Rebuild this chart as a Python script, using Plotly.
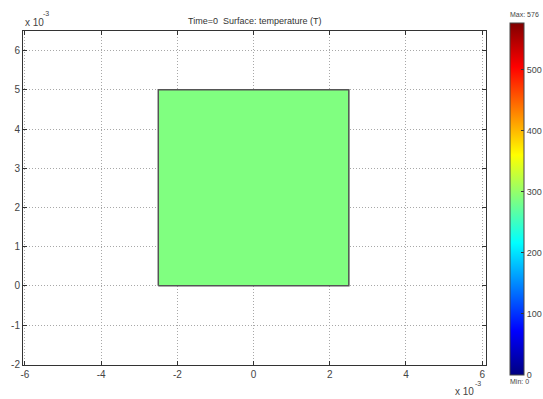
import plotly.graph_objects as go

# Data
x_edges = [-2.5e-3, 2.5e-3]
y_edges = [0.0, 5.0e-3]
temperature = [[288]]
t_min, t_max = 0, 576
x_ticks = [-6, -4, -2, 0, 2, 4, 6]
y_ticks = [-2, -1, 0, 1, 2, 3, 4, 5, 6]
cb_ticks = [0, 100, 200, 300, 400, 500]

jet = [[0.0, "rgb(0,0,128)"], [0.125, "rgb(0,0,255)"], [0.375, "rgb(0,255,255)"],
       [0.625, "rgb(255,255,0)"], [0.875, "rgb(255,0,0)"], [1.0, "rgb(128,0,0)"]]

FONT = "Liberation Sans, Arial"

fig = go.Figure()
fig.add_trace(go.Heatmap(
    x=x_edges, y=y_edges, z=temperature, zmin=t_min, zmax=t_max,
    colorscale=jet, hoverinfo="skip",
    colorbar=dict(
        thickness=14, thicknessmode="pixels", len=1.054, lenmode="fraction",
        x=1.052, xanchor="left", y=-0.03, yanchor="bottom",
        outlinewidth=1, outlinecolor="#444", xpad=0, ypad=0,
        tickvals=cb_ticks, ticktext=[str(v) for v in cb_ticks],
        ticks="inside", ticklen=3, tickcolor="#333",
        tickfont=dict(family=FONT, size=9, color="#444"),
    ),
))
bx = [x_edges[0], x_edges[1], x_edges[1], x_edges[0], x_edges[0]]
by = [y_edges[0], y_edges[0], y_edges[1], y_edges[1], y_edges[0]]
fig.add_trace(go.Scatter(x=bx, y=by, mode="lines", line=dict(color="#555", width=1.5),
                         hoverinfo="skip", showlegend=False))

axis_common = dict(
    showline=True, linecolor="#333", linewidth=1, mirror="ticks",
    ticks="inside", ticklen=4, tickcolor="#333",
    showgrid=True, gridcolor="#a8a8a8", griddash="1px,2px", gridwidth=1,
    zeroline=False,
    tickfont=dict(family=FONT, size=10, color="#444"),
)
fig.update_xaxes(range=[-6.05e-3, 6.1e-3], tickvals=[v * 1e-3 for v in x_ticks],
                 ticktext=[str(v) for v in x_ticks], **axis_common)
fig.update_yaxes(range=[-2.02e-3, 6.5e-3], tickvals=[v * 1e-3 for v in y_ticks],
                 ticktext=[str(v) for v in y_ticks], **axis_common)

fig.update_layout(
    width=543, height=399,
    margin=dict(l=23, r=57, t=31, b=34, autoexpand=False),
    plot_bgcolor="white", paper_bgcolor="white",
    showlegend=False,
    annotations=[
        dict(text="Time=0  Surface: temperature (T)", x=0.5, y=1, xref="paper", yref="paper",
             xanchor="center", yanchor="bottom", yshift=3, showarrow=False,
             font=dict(family=FONT, size=9, color="#333")),
        dict(text="x 10", x=0, y=1, xref="paper", yref="paper", xanchor="left", yanchor="bottom",
             xshift=0, yshift=1, showarrow=False, font=dict(family=FONT, size=10, color="#444")),
        dict(text="-3", x=0, y=1, xref="paper", yref="paper", xanchor="left", yanchor="bottom",
             xshift=18, yshift=12, showarrow=False, font=dict(family=FONT, size=7, color="#444")),
        dict(text="x 10", x=1, y=0, xref="paper", yref="paper", xanchor="right", yanchor="top",
             xshift=-10, yshift=-19, showarrow=False, font=dict(family=FONT, size=10, color="#444")),
        dict(text="-3", x=1, y=0, xref="paper", yref="paper", xanchor="right", yanchor="top",
             xshift=-3, yshift=-13, showarrow=False, font=dict(family=FONT, size=7, color="#444")),
        dict(text="Max: 576", x=1.052, y=1.024, xref="paper", yref="paper", xanchor="left", yanchor="bottom",
             xshift=-2, yshift=3, showarrow=False, font=dict(family=FONT, size=7, color="#444")),
        dict(text="Min: 0", x=1.052, y=-0.03, xref="paper", yref="paper", xanchor="left", yanchor="top",
             xshift=-2, yshift=-1, showarrow=False, font=dict(family=FONT, size=7, color="#444")),
    ],
)

fig.write_html("out.html", config={"displayModeBar": False},
               post_script="document.body.style.margin='0';document.body.style.overflow='hidden';")
